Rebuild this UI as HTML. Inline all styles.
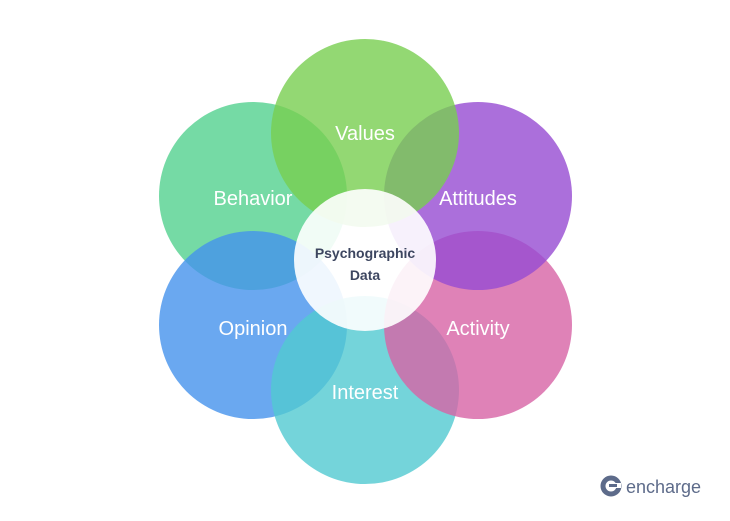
<!DOCTYPE html>
<html><head><style>body{margin:0;background:#fff}svg{display:block}</style></head>
<body>
<svg width="730" height="521" viewBox="0 0 730 521" font-family="Liberation Sans, sans-serif">
<g fill-opacity="0.8">
<circle cx="253" cy="196" r="94" fill="#53d18e"/>
<circle cx="253" cy="325" r="94" fill="#4592ec"/>
<circle cx="365" cy="390" r="94" fill="#51c9d1"/>
<circle cx="478" cy="325" r="94" fill="#d763a5"/>
<circle cx="478" cy="196" r="94" fill="#964bd2"/>
<circle cx="365" cy="133" r="94" fill="#78ce50"/>
</g>
<circle cx="365" cy="260" r="71" fill="#fff" opacity="0.9"/>
<g fill="#fff" font-size="20" text-anchor="middle">
<text x="365" y="140">Values</text>
<text x="478" y="205">Attitudes</text>
<text x="478" y="335">Activity</text>
<text x="365" y="399">Interest</text>
<text x="253" y="335">Opinion</text>
<text x="253" y="205">Behavior</text>
</g>
<g fill="#3d4660" font-size="14" font-weight="bold" text-anchor="middle">
<text x="365" y="258">Psychographic</text>
<text x="365" y="280">Data</text>
</g>
<circle cx="611" cy="486" r="8" fill="none" stroke="#5d6b8a" stroke-width="5"/>
<rect x="611" y="483" width="10" height="5" fill="#fff"/>
<rect x="609" y="484" width="8" height="3" fill="#5d6b8a"/>
<text x="626" y="493" fill="#5d6b8a" font-size="18">encharge</text>
</svg>
</body></html>
